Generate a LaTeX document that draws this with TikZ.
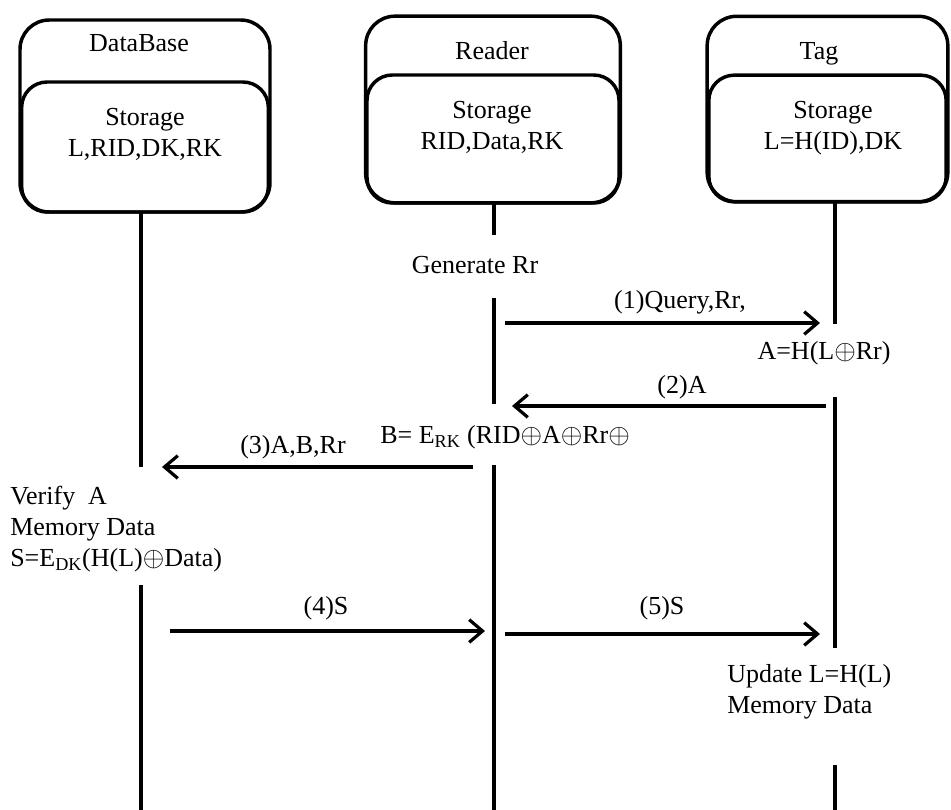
\documentclass[tikz,border=0pt]{standalone}
\usepackage{fontspec}
\setmainfont{Liberation Serif}
\usetikzlibrary{arrows.meta,positioning}

\begin{document}
\begin{tikzpicture}[x=0.75pt, y=-0.75pt, font=\fontsize{19.5}{23.25}\selectfont,
    box/.style={draw, line width=2.6pt, rounded corners=22pt, inner sep=0pt},
    life/.style={line width=2.4pt},
    msg/.style={line width=2.4pt, -{Straight Barb[length=10pt,width=17pt,line width=2.4pt]}},
    lbl/.style={inner sep=0pt, anchor=base}]
    \useasboundingbox (0,0) rectangle (951,810);

    % entity boxes
    \node[box, minimum width=187.5pt, minimum height=144pt] (db) at (145,116) {};
    \node[box, minimum width=185pt, minimum height=97.5pt, rounded corners=19pt] (dbstore) at (145,147) {};
    \node[box, minimum width=191pt, minimum height=140pt] (rd) at (493,109.5) {};
    \node[box, minimum width=189pt, minimum height=96pt, rounded corners=19pt] (rdstore) at (493,139) {};
    \node[box, minimum width=180.5pt, minimum height=139pt] (tg) at (827.5,109) {};
    \node[box, minimum width=178pt, minimum height=95pt, rounded corners=19pt] (tgstore) at (827.5,138.5) {};

    \node[lbl] (dbname) at (139,51) {DataBase};
    \node[lbl, align=center] (dbdata) at (145,156) {Storage\\L,RID,DK,RK};
    \node[lbl] (rdname) at (492,60) {Reader};
    \node[lbl, align=center] (rddata) at (492,149) {Storage\\RID,Data,RK};
    \node[lbl] (tgname) at (819,60) {Tag};
    \node[lbl, align=center] (tgdata) at (833,149) {Storage\\L=H(ID),DK};

    % lifelines
    \coordinate (db1) at (141,212);
    \coordinate (db2) at (141,467);
    \coordinate (db3) at (141,585);
    \coordinate (db4) at (141,810);
    \coordinate (rd1) at (494,203);
    \coordinate (rd2) at (494,235);
    \coordinate (rd3) at (494,298);
    \coordinate (rd4) at (494,404);
    \coordinate (rd5) at (494,465);
    \coordinate (rd6) at (494,810);
    \coordinate (tg1) at (835,202);
    \coordinate (tg2) at (835,324);
    \coordinate (tg3) at (835,397);
    \coordinate (tg4) at (835,648);
    \coordinate (tg5) at (835,765);
    \coordinate (tg6) at (835,810);
    \draw[life] (db1) -- (db2);
    \draw[life] (db3) -- (db4);
    \draw[life] (rd1) -- (rd2);
    \draw[life] (rd3) -- (rd4);
    \draw[life] (rd5) -- (rd6);
    \draw[life] (tg1) -- (tg2);
    \draw[life] (tg3) -- (tg4);
    \draw[life] (tg5) -- (tg6);

    % messages
    \coordinate (m1s) at (505,323);
    \coordinate (m1e) at (820,323);
    \coordinate (m2s) at (826,406);
    \coordinate (m2e) at (512,406);
    \coordinate (m3s) at (473,467);
    \coordinate (m3e) at (162,467);
    \coordinate (m4s) at (170,631);
    \coordinate (m4e) at (485,631);
    \coordinate (m5s) at (505,634);
    \coordinate (m5e) at (820,634);
    \draw[msg] (m1s) -- (m1e);
    \draw[msg] (m2s) -- (m2e);
    \draw[msg] (m3s) -- (m3e);
    \draw[msg] (m4s) -- (m4e);
    \draw[msg] (m5s) -- (m5e);

    \node[lbl] (gen) at (475,273) {Generate Rr};
    \node[lbl] (q1) at (680,308) {(1)Query,Rr,};
    \node[lbl] (ahash) at (824,359) {A=H(L$\oplus$Rr)};
    \node[lbl] (q2) at (682,393) {(2)A};
    \node[lbl, anchor=base west] (benc) at (380,443) {B= E\textsubscript{RK} (RID$\oplus$A$\oplus$Rr$\oplus$};
    \node[lbl] (q3) at (293,453) {(3)A,B,Rr};
    \node[lbl, anchor=base west, align=left] (verify) at (10,566) {Verify~ A\\Memory Data\\S=E\textsubscript{DK}(H(L)$\oplus$Data)};
    \node[lbl] (q4) at (326,614) {(4)S};
    \node[lbl] (q5) at (662,614) {(5)S};
    \node[lbl, anchor=base west, align=left] (update) at (727,713) {Update L=H(L)\\Memory Data};

\end{tikzpicture}
\end{document}
